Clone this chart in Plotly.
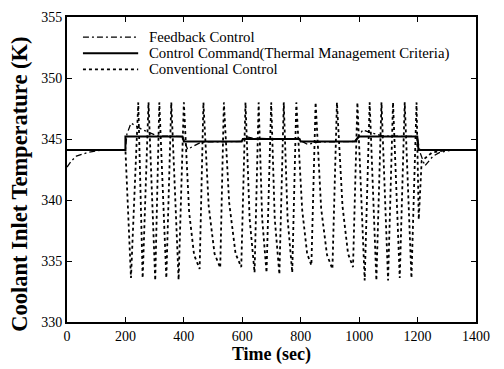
import plotly.graph_objects as go

# Control command (thermal management criteria)
cmd_t = [0, 200, 200, 395, 400, 598, 602, 796, 800, 985, 1000, 1199, 1203, 1400]
cmd_T = [344.1, 344.1, 345.2, 345.2, 344.8, 344.8, 345.0, 345.0, 344.8, 344.8, 345.2, 345.2, 344.1, 344.1]

# Feedback control
fb_t = [0, 15, 32, 72, 120, 200, 205, 219, 259, 282, 310, 395, 413, 431, 460, 600, 610, 640,
        790, 824, 860, 985, 1000, 1013, 1042, 1080, 1198, 1210, 1225, 1253, 1276, 1320, 1400]
fb_T = [342.7, 343.2, 343.6, 343.9, 344.1, 344.1, 345.4, 346.3, 345.75, 345.5, 345.25, 345.2, 344.15, 344.4,
        344.75, 344.8, 345.2, 345.05, 345.0, 344.55, 344.75, 344.8, 345.3, 345.75, 345.5, 345.25, 345.2,
        343.8, 342.8, 343.6, 343.9, 344.1, 344.1]

# Conventional control
conv_t = [0, 200, 219, 244, 259, 279, 302, 316, 340, 357, 382, 400, 418, 435, 454, 467, 485, 505,
          524.5, 537, 555, 577, 596.5, 611, 625, 642, 656, 668, 683, 699, 711, 727, 742, 755, 771,
          785, 805, 822, 836.5, 851, 870, 890, 908.5, 924, 943, 962, 979, 994, 1019, 1036, 1059,
          1076.5, 1099, 1116, 1139, 1156, 1179, 1196.5, 1204, 1214, 1250, 1300, 1400]
conv_T = [344.1, 344.1, 333.6, 348.0, 333.6, 348.0, 333.4, 348.0, 333.6, 348.0, 333.45, 348.0, 339.0, 335.5,
          334.35, 348.0, 339.5, 335.6, 334.45, 348.0, 339.8, 335.6, 334.5, 348.0, 338.5, 334.05, 348.0,
          338.5, 334.05, 348.0, 338.5, 333.9, 348.0, 338.5, 334.05, 348.0, 339.2, 335.6, 334.65, 348.0,
          339.3, 335.5, 334.35, 348.0, 339.5, 335.6, 334.5, 348.0, 333.4, 348.0, 333.4, 348.0, 333.4,
          348.0, 333.6, 348.0, 333.6, 348.0, 338.4, 343.2, 343.9, 344.1, 344.1]

x_ticks = [0, 200, 400, 600, 800, 1000, 1200, 1400]
y_ticks = [330, 335, 340, 345, 350, 355]

series_names = ["Feedback Control", "Control Command(Thermal Management Criteria)", "Conventional Control"]
series_styles = [dict(color="black", width=1.3, dash="6px,3px,2px,3px"),
                 dict(color="black", width=2),
                 dict(color="black", width=1.8, dash="dot")]
series_data = [(fb_t, fb_T), (cmd_t, cmd_T), (conv_t, conv_T)]

fig = go.Figure()
for name, style, (xs, ys) in zip(series_names, series_styles, series_data):
    fig.add_trace(go.Scatter(x=xs, y=ys, mode="lines", name=name, line=style, showlegend=False))

font = "Liberation Serif"

# manual legend (inside top-left of the plot area), paper coordinates
leg_rows_y = [0.9343, 0.8814, 0.8285]
for name, style, yy in zip(series_names, series_styles, leg_rows_y):
    fig.add_shape(type="line", xref="paper", yref="paper", x0=0.039, x1=0.174, y0=yy, y1=yy,
                  line=style)
    fig.add_annotation(xref="paper", yref="paper", x=0.197, y=yy, text=name, showarrow=False,
                       xanchor="left", yanchor="middle", borderpad=0,
                       font=dict(family=font, size=14.8, color="black"))

# y-axis title as rotated annotation
fig.add_annotation(xref="paper", yref="paper", x=-0.115, y=0.4535,
                   text="<b>Coolant Inlet Temperature (K)</b>", textangle=-90, showarrow=False,
                   xanchor="center", yanchor="middle",
                   font=dict(family=font, size=22.5, color="black"))

axis_common = dict(showline=True, linecolor="black", linewidth=2, mirror="ticks",
                   ticks="inside", ticklen=5, tickwidth=1, tickcolor="black",
                   showgrid=False, zeroline=False,
                   tickfont=dict(family=font, size=14, color="black"))
fig.update_xaxes(range=[0, 1400], tickvals=x_ticks,
                 title=dict(text="<b>Time (sec)</b>", font=dict(family=font, size=18, color="black"),
                            standoff=0),
                 **axis_common)
fig.update_yaxes(range=[330, 355], tickvals=y_ticks, **axis_common)
fig.update_layout(width=504, height=369, margin=dict(l=67, r=28, t=10, b=47),
                  plot_bgcolor="white", paper_bgcolor="white", showlegend=False)
fig.write_html("out.html")
